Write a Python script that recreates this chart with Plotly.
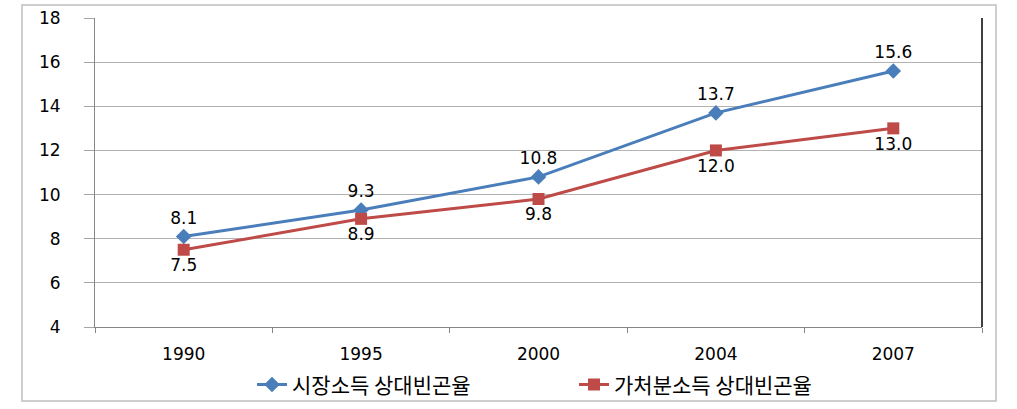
import plotly.graph_objects as go

years = ["1990", "1995", "2000", "2004", "2007"]
market = [8.1, 9.3, 10.8, 13.7, 15.6]
disposable = [7.5, 8.9, 9.8, 12.0, 13.0]
name_market = "시장소득 상대빈곤율"
name_disp = "가처분소득 상대빈곤율"
y_ticks = [4, 6, 8, 10, 12, 14, 16, 18]

num_font = dict(family="DejaVu Sans", size=17, color="black")

fig = go.Figure()
fig.add_trace(go.Scatter(
    x=years, y=market, name=name_market, mode="lines+markers+text",
    line=dict(color="#4A7EBB", width=3),
    marker=dict(symbol="diamond", size=12, color="#4A7EBB"),
    text=[f"{v:.1f}" for v in market], textposition="top center",
    textfont=num_font,
))
fig.add_trace(go.Scatter(
    x=years, y=disposable, name=name_disp, mode="lines+markers+text",
    line=dict(color="#BE4B48", width=3),
    marker=dict(symbol="square", size=12, color="#BE4B48"),
    text=[f"{v:.1f}" for v in disposable], textposition="bottom center",
    textfont=num_font,
))

fig.update_layout(
    width=1017, height=409,
    margin=dict(l=95, r=35, t=18, b=82, autoexpand=False),
    paper_bgcolor="white", plot_bgcolor="white",
    font=dict(family="DejaVu Sans", size=17, color="black"),
    showlegend=True,
    legend=dict(
        orientation="h", xref="container", yref="container",
        x=0.2478, xanchor="left", y=0.059, yanchor="middle",
        font=dict(family="Noto Sans CJK KR", size=21, color="black"),
        entrywidth=277, entrywidthmode="pixels",
        bgcolor="rgba(0,0,0,0)",
    ),
    xaxis=dict(
        type="category", range=[-0.5, 4.5],
        showline=True, linecolor="#868686", linewidth=1,
        ticks="outside", tickson="boundaries", ticklen=5, tickcolor="#868686",
        showgrid=False, ticklabelstandoff=12,
        tickfont=num_font,
    ),
    yaxis=dict(
        range=[4, 18], tickvals=y_ticks,
        showline=True, linecolor="#868686", linewidth=1,
        ticks="outside", ticklen=10, tickcolor="#A6A6A6",
        showgrid=True, gridcolor="#B3B3B3", gridwidth=1,
        zeroline=False, ticklabelstandoff=20,
        tickfont=num_font,
    ),
    shapes=[
        dict(type="rect", xref="paper", yref="paper",
             x0=-0.0823, x1=1.0158, y0=-0.2395, y1=1.042,
             line=dict(color="#BFBFBF", width=1.5), layer="below"),
        dict(type="line", xref="paper", yref="paper",
             x0=1, x1=1, y0=0, y1=1,
             line=dict(color="black", width=1.5)),
    ],
)

fig.write_html("out.html")
